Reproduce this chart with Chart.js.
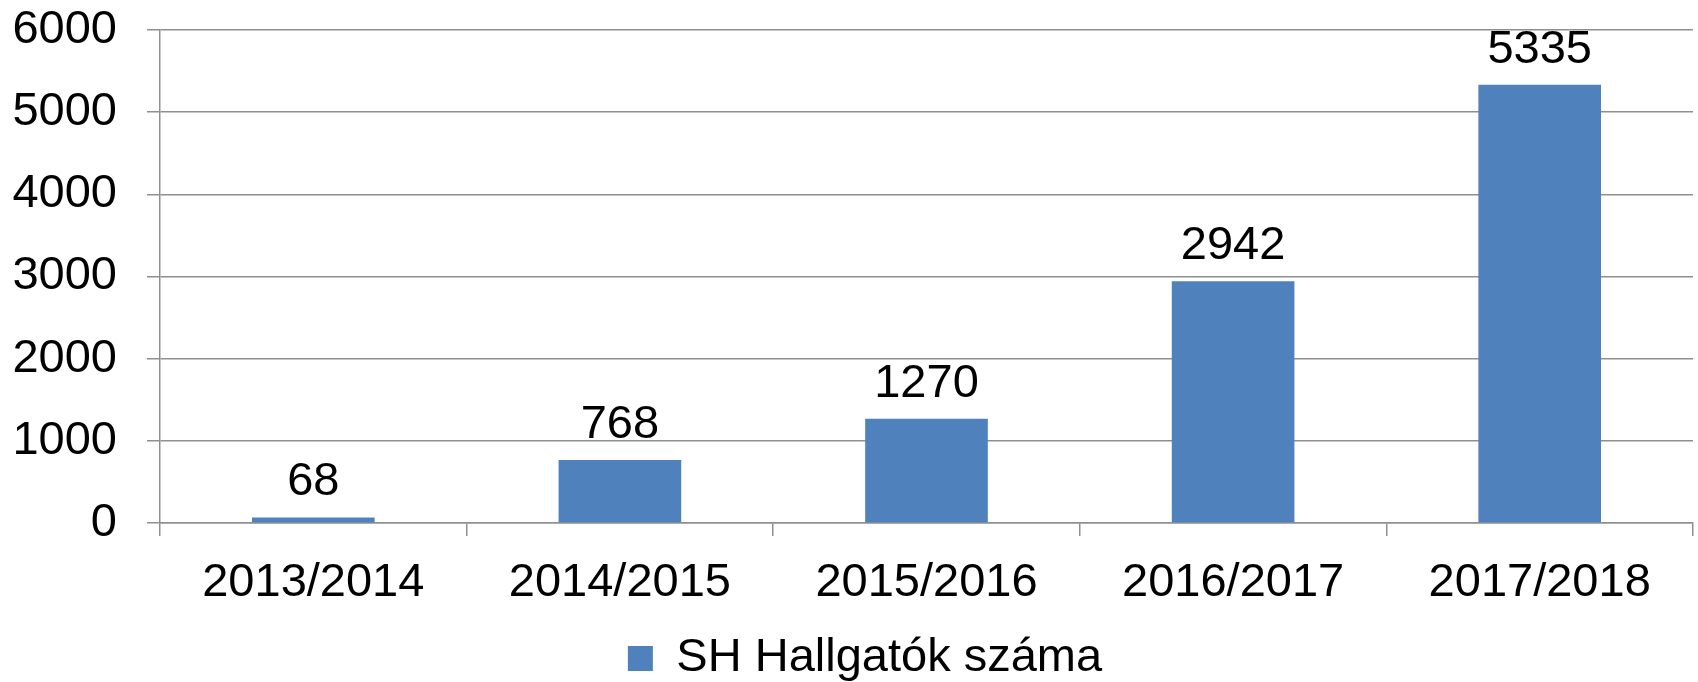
<!DOCTYPE html>
<html>
<head>
<meta charset="utf-8">
<script src="https://cdn.jsdelivr.net/npm/chart.js@4.4.0/dist/chart.umd.min.js"></script>
<style>
    html, body { margin: 0; padding: 0; background: #fff; }
    #wrap { width: 1698px; height: 682px; }
</style>
</head>
<body>
<div id="wrap"><canvas id="myChart" width="1698" height="682"></canvas></div>
<script>
const categories = ['2013/2014', '2014/2015', '2015/2016', '2016/2017', '2017/2018'];
const students = [68, 768, 1270, 2942, 5335];
const seriesName = 'SH Hallgatók száma';
const yTicks = [0, 1000, 2000, 3000, 4000, 5000, 6000];

const FONT = "'Liberation Sans', Arial, sans-serif";
const gridColor = '#8f8f8f';

// value labels above each bar
const valueLabels = {
    id: 'valueLabels',
    afterDatasetsDraw(chart) {
        const ctx = chart.ctx;
        const meta = chart.getDatasetMeta(0);
        ctx.save();
        ctx.font = '47px ' + FONT;
        ctx.fillStyle = '#000';
        ctx.textAlign = 'center';
        ctx.textBaseline = 'alphabetic';
        meta.data.forEach(function (bar, i) {
            ctx.fillText(String(students[i]), bar.x, bar.y - 22);
        });
        ctx.restore();
    }
};

// nudge the legend a bit to the right like the original
const legendShift = {
    id: 'legendShift',
    afterLayout(chart) {
        if (chart.legend) {
            chart.legend.left += 37;
        }
    }
};

new Chart(document.getElementById('myChart').getContext('2d'), {
    type: 'bar',
    data: {
        labels: categories,
        datasets: [{
            label: seriesName,
            data: students,
            backgroundColor: '#4f81bd',
            borderWidth: 0,
            barPercentage: 0.4,
            categoryPercentage: 1
        }]
    },
    options: {
        responsive: false,
        animation: false,
        layout: { padding: { top: 30, right: 5, left: 0, bottom: -10 } },
        plugins: {
            tooltip: { enabled: false },
            legend: {
                position: 'bottom',
                labels: {
                    boxWidth: 25,
                    boxHeight: 25,
                    padding: 6,
                    color: '#000',
                    font: { family: FONT, size: 47 }
                }
            }
        },
        scales: {
            x: {
                grid: {
                    offset: true,
                    drawOnChartArea: false,
                    drawTicks: true,
                    tickLength: 13,
                    color: gridColor,
                    lineWidth: 1.5
                },
                border: { color: gridColor, width: 1.5 },
                ticks: {
                    color: '#000',
                    padding: 19,
                    maxRotation: 0,
                    font: { family: FONT, size: 47 }
                },
                afterFit(scale) { scale.height = 106; }
            },
            y: {
                min: 0,
                max: 6000,
                grid: {
                    color: gridColor,
                    lineWidth: 1.5,
                    tickLength: 13
                },
                border: { color: gridColor, width: 1.5 },
                ticks: {
                    color: '#000',
                    padding: 30,
                    stepSize: 1000,
                    font: { family: FONT, size: 47 },
                    callback: function (v) { return String(v); }
                },
                afterBuildTicks(scale) {
                    scale.ticks = yTicks.map(function (v) { return { value: v }; });
                },
                afterFit(scale) {
                    scale.width = 160;
                    scale.paddingTop = 0;
                    scale.paddingBottom = 0;
                }
            }
        }
    },
    plugins: [valueLabels, legendShift]
});
</script>
</body>
</html>
